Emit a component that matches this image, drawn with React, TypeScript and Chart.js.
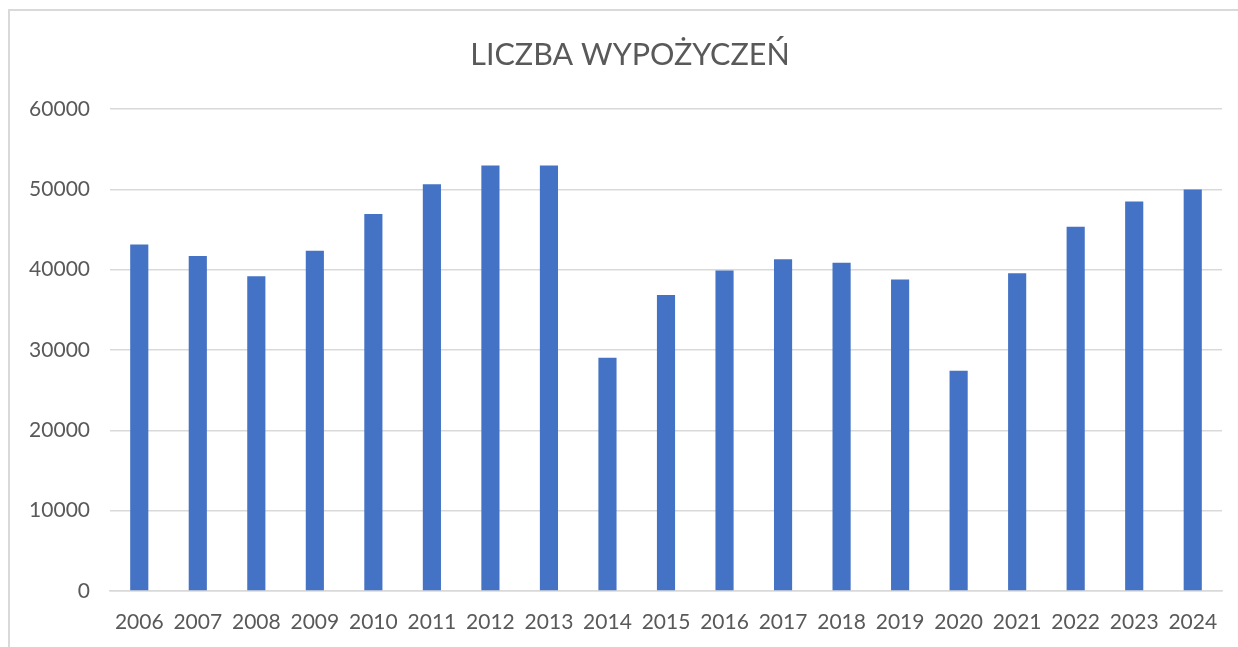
import React, { useEffect, useRef } from "react";
import { Chart, registerables } from "chart.js";

Chart.register(...registerables);

const years = ["2006","2007","2008","2009","2010","2011","2012","2013","2014","2015","2016","2017","2018","2019","2020","2021","2022","2023","2024"];
const loans = [43140, 41690, 39170, 42360, 46940, 50620, 52980, 52980, 29040, 36860, 39900, 41310, 40850, 38770, 27420, 39560, 45340, 48500, 49980];
const yTicks = [0, 10000, 20000, 30000, 40000, 50000, 60000];
const chartTitle = "LICZBA WYPOŻYCZEŃ";

const TEXT = "#595959";
const GRID = "#d9d9d9";
const BAR = "#4472c4";
const FONT = "Lato, 'Open Sans', sans-serif";

const titlePlugin = {
  id: "centeredTitle",
  afterDraw(chart: any) {
    const ctx = chart.ctx;
    ctx.save();
    ctx.fillStyle = TEXT;
    ctx.font = `normal 30.5px ${FONT}`;
    ctx.textAlign = "center";
    ctx.textBaseline = "middle";
    ctx.fillText(chartTitle, 630, 55);
    ctx.restore();
  },
};

export default function App() {
  const ref = useRef<HTMLCanvasElement | null>(null);

  useEffect(() => {
    document.body.style.margin = "0";
    const canvas = ref.current;
    if (!canvas) return;
    const chart = new Chart(canvas, {
      type: "bar",
      data: {
        labels: years,
        datasets: [
          {
            label: chartTitle,
            data: loans,
            backgroundColor: BAR,
            borderWidth: 0,
            barPercentage: 0.31,
            categoryPercentage: 1,
          },
        ],
      },
      options: {
        responsive: false,
        animation: false,
        maintainAspectRatio: false,
        layout: { padding: { top: 109, right: 16, bottom: 0, left: 0 } },
        plugins: {
          legend: { display: false },
          tooltip: { enabled: false },
          title: { display: false },
        },
        scales: {
          x: {
            grid: { display: false, drawTicks: false },
            border: { display: true, color: GRID, width: 1.5 },
            ticks: {
              color: TEXT,
              font: { family: FONT, size: 21 },
              padding: 18.5,
              maxRotation: 0,
              autoSkip: false,
            },
            afterFit: (scale: any) => {
              scale.height = 56;
            },
          },
          y: {
            min: 0,
            max: 60000,
            afterBuildTicks: (scale: any) => {
              scale.ticks = yTicks.map((v) => ({ value: v }));
            },
            grid: { color: GRID, lineWidth: 1.5, drawTicks: false },
            border: { display: false },
            ticks: {
              color: TEXT,
              font: { family: FONT, size: 21 },
              padding: 20,
              callback: (v: any) => String(v),
            },
            afterFit: (scale: any) => {
              scale.width = 110;
            },
          },
        },
      },
      plugins: [titlePlugin],
    });
    return () => chart.destroy();
  }, []);

  return (
    <div style={{ position: "relative", width: 1238, height: 647, background: "#fff", overflow: "hidden" }}>
      <div
        style={{
          position: "absolute",
          left: 8,
          top: 9,
          width: 1240,
          height: 650,
          borderTop: "2px solid #d9d9d9",
          borderLeft: "2px solid #d9d9d9",
          boxSizing: "border-box",
        }}
      />
      <canvas ref={ref} width={1238} height={647} style={{ position: "absolute", left: 0, top: 0, display: "block" }} />
    </div>
  );
}
